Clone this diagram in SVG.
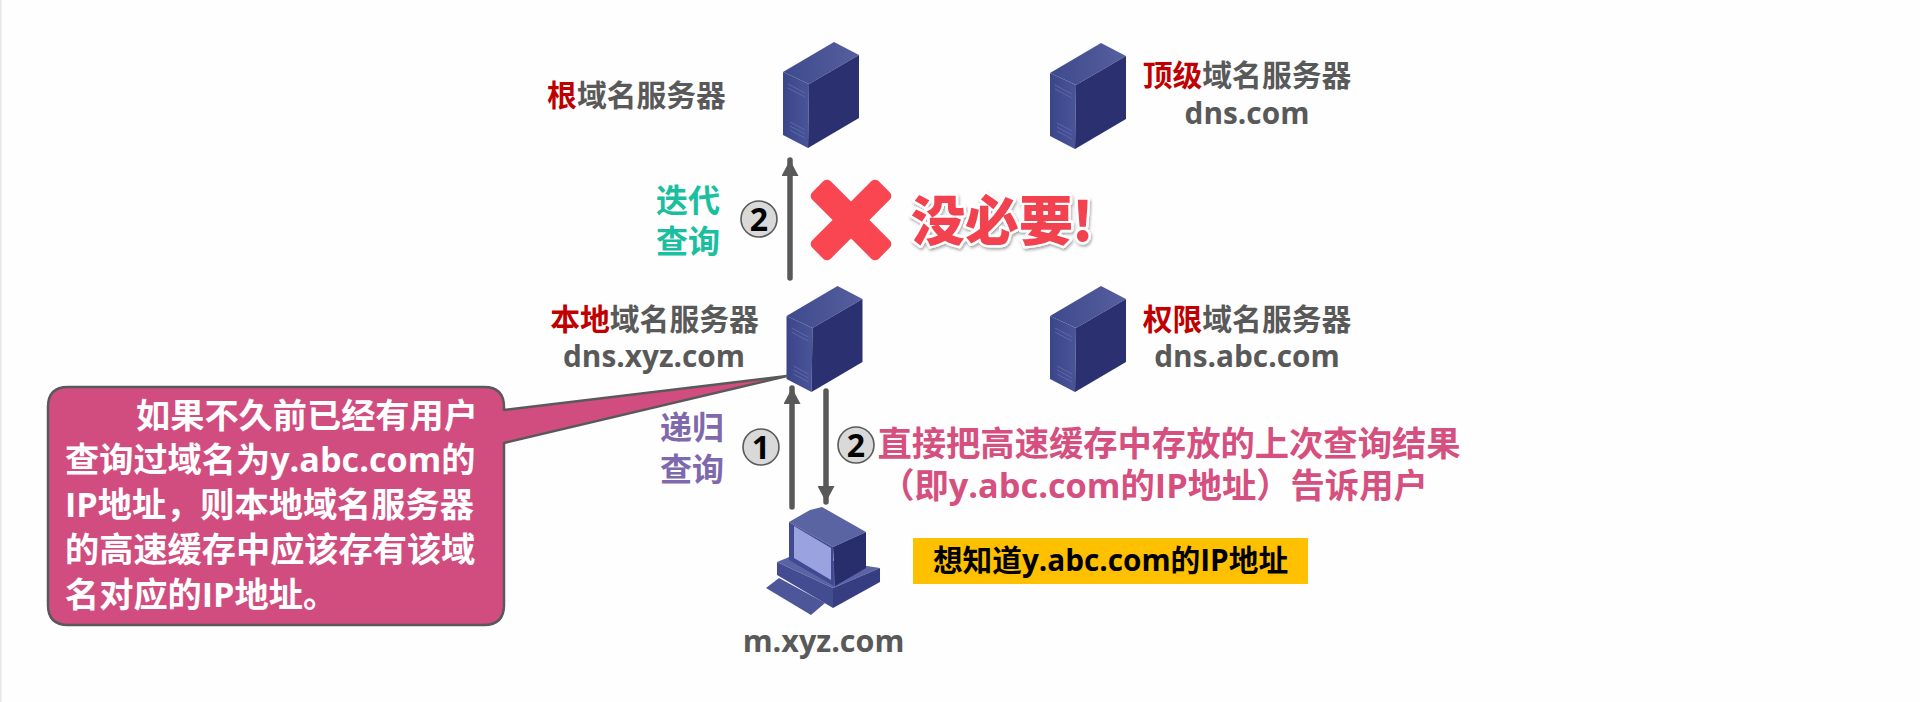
<svg xmlns="http://www.w3.org/2000/svg" width="1920" height="702" viewBox="0 0 1920 702">
<style>
text{font-family:"Open Sans","Noto Sans CJK SC",sans-serif;font-weight:700}
.lb{font-size:29.8px;fill:#595959;text-anchor:middle}
.red{fill:#c00000}
.big{font-size:32px}
.cn{font-size:34.2px;fill:#fff}
.pk{font-size:34.3px;fill:#d6507f;text-anchor:middle}
.ci{fill:#d9d9d9;stroke:#595959;stroke-width:1.6}
.num{font-size:32px;fill:#000;text-anchor:middle}
.ar{fill:none;stroke:#595959;stroke-width:5.5;stroke-linecap:round}
</style>
<defs>
<marker id="ah" markerUnits="userSpaceOnUse" markerWidth="18" markerHeight="17" refX="16" refY="8.5" orient="auto">
<path d="M0 0L16 8.5L0 17Z" fill="#595959"/>
</marker>
<linearGradient id="tp" x1="0" y1="0" x2="1" y2="0"><stop offset="0" stop-color="#3e4a8c"/><stop offset="1" stop-color="#565f9f"/></linearGradient>
<linearGradient id="fr" x1="0" y1="0" x2="1" y2="0"><stop offset="0" stop-color="#3b4589"/><stop offset="1" stop-color="#4a5499"/></linearGradient>
<g id="srv">
<path d="M783 72L834 42L859 55L809 84Z" fill="url(#tp)"/>
<path d="M783 72L809 84L808 148L783 135Z" fill="url(#fr)"/>
<path d="M809 84L859 55L859 118L808 148Z" fill="#2a3070"/>
<path d="M788 84L805 93M788 88L805 97" stroke="#5c66a8" stroke-width="1" fill="none"/>
<path d="M790 122L805 130M790 126L805 134M790 130L805 138" stroke="#5c66a8" stroke-width="1" fill="none"/>
</g>
<filter id="sh" x="-10%" y="-10%" width="120%" height="125%"><feDropShadow dx="1" dy="2" stdDeviation="1.5" flood-color="#000" flood-opacity=".35"/></filter>
</defs>
<rect width="1920" height="702" fill="#fefefe"/>
<rect width="1.5" height="702" fill="#e6e6e6"/>

<g id="connectors">
<path class="ar" d="M790 278L790 160" marker-end="url(#ah)"/>
<path class="ar" d="M792 507L792 388" marker-end="url(#ah)"/>
<path class="ar" d="M826 391L826 502" marker-end="url(#ah)"/>
</g>

<g id="root-server">
<use href="#srv"/>
<text class="lb" x="636.5" y="106"><tspan class="red">根</tspan>域名服务器</text>
</g>
<g id="tld-server">
<use href="#srv" x="267" y="1"/>
<text class="lb" x="1247" y="86"><tspan class="red">顶级</tspan>域名服务器</text>
<text class="lb" x="1247" y="124">dns.com</text>
</g>
<g id="local-server">
<use href="#srv" x="3.5" y="244"/>
<text class="lb" x="654.5" y="330"><tspan class="red">本地</tspan>域名服务器</text>
<text class="lb" x="654" y="367">dns.xyz.com</text>
</g>
<g id="auth-server">
<use href="#srv" x="267" y="244"/>
<text class="lb" x="1247" y="330"><tspan class="red">权限</tspan>域名服务器</text>
<text class="lb" x="1247" y="367">dns.abc.com</text>
</g>

<g id="client">
<path d="M766 588L779 578L825 603L811 615Z" fill="#4d5699"/>
<path d="M777 562L794 555L880 568L833 588Z" fill="#5a63a5"/>
<path d="M777 562L777 575L833 608L833 588Z" fill="#434c90"/>
<path d="M833 588L880 568L880 582L833 608Z" fill="#363d80"/>
<path d="M789 522L810 510L822 507L866 532L833 547Z" fill="#5a64a3"/>
<path d="M789 522L833 547L834 586L789 560Z" fill="#414a90"/>
<path d="M794 526L831 548L831 580L794 558Z" fill="#9aa2e0"/>
<path d="M833 547L866 532L866 568L835 586Z" fill="#282d6c"/>
<text class="lb" x="823.5" y="652" style="font-size:30.5px">m.xyz.com</text>
</g>

<g id="iter-label">
<text class="big" fill="#1abf9f" x="656" y="212">迭代</text>
<text class="big" fill="#1abf9f" x="656" y="253">查询</text>
<circle class="ci" cx="759" cy="219" r="18"/>
<text class="num" x="759" y="230.500">2</text>
</g>
<g id="rec-label">
<text class="big" fill="#7f69ad" x="660" y="439">递归</text>
<text class="big" fill="#7f69ad" x="660" y="481">查询</text>
<circle class="ci" cx="761" cy="447" r="18"/>
<text class="num" x="761" y="458.500">1</text>
</g>
<g id="resp-label">
<circle class="ci" cx="856" cy="445" r="18"/>
<text class="num" x="856" y="456.500">2</text>
<text class="pk" x="1169" y="456">直接把高速缓存中存放的上次查询结果</text>
<text class="pk" x="1154" y="498">（即y.abc.com的IP地址）告诉用户</text>
</g>

<g id="cross">
<g transform="translate(851 220) rotate(45)" fill="#fa4650">
<rect x="-47" y="-13" width="94" height="26" rx="5"/>
<rect x="-13" y="-47" width="26" height="94" rx="5"/>
</g>
<text x="911" y="241" font-size="54" fill="#f2434f" stroke="#fff" stroke-width="5" paint-order="stroke" stroke-linejoin="round" filter="url(#sh)" style="font-family:'Noto Sans CJK SC',sans-serif;font-weight:900">没必要<tspan dx="-1">!</tspan></text>
</g>

<g id="callout">
<path d="M68 387H484Q504 387 504 407V410L787 376L504 443V605Q504 625 484 625H68Q48 625 48 605V407Q48 387 68 387Z" fill="#d24d7f" stroke="#595959" stroke-width="2.5" stroke-linejoin="round"/>
<text class="cn" x="136" y="428">如果不久前已经有用户</text>
<text class="cn" x="65" y="472">查询过域名为y.abc.com的</text>
<text class="cn" x="65" y="517">IP地址，则本地域名服务器</text>
<text class="cn" x="65" y="562">的高速缓存中应该存有该域</text>
<text class="cn" x="65" y="607">名对应的IP地址。</text>
</g>

<g id="note">
<rect x="913" y="538" width="395" height="46" fill="#ffc000"/>
<text x="1110.5" y="571" font-size="29.700" fill="#000" text-anchor="middle">想知道y.abc.com的IP地址</text>
</g>
</svg>
